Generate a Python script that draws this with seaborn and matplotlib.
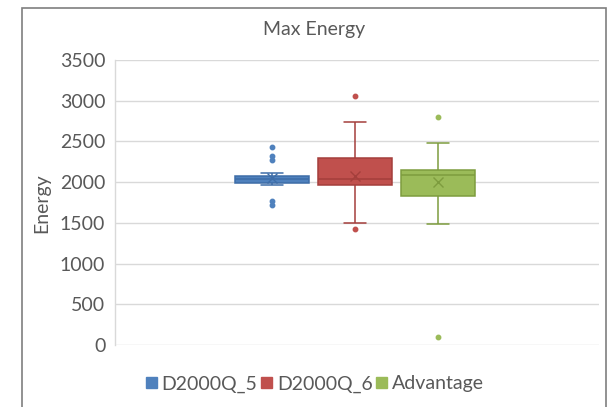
import numpy as np
import pandas as pd
import seaborn as sns
import matplotlib.pyplot as plt
from matplotlib.patches import Patch, Rectangle

# ---- data ----
series = ["D2000Q_5", "D2000Q_6", "Advantage"]
d2000q_5 = [1719, 1768, 1968, 1970, 1988, 1990, 1992, 1995, 2035,
            2036, 2037, 2038, 2073, 2115, 2277, 2326, 2436]
d2000q_6 = [1422, 1504, 1510, 1960, 1965, 1990, 2042, 2050, 2100,
            2294, 2300, 2734, 3056]
advantage = [101, 1491, 1800, 1825, 1829, 2000, 2060, 2078, 2082,
             2110, 2130, 2140, 2143, 2450, 2470, 2482, 2803]
title = "Max Energy"
ylabel = "Energy"
yticks = [0, 500, 1000, 1500, 2000, 2500, 3000, 3500]

fills = ["#4F81BD", "#C0504D", "#9BBB59"]
edges = ["#3E6DA8", "#A43F3C", "#7D9C3E"]
text_color = "#595959"

sns.set_theme(style="white")
plt.rcParams['font.family'] = ['Lato', 'DejaVu Sans']

df = pd.DataFrame({
    "group": ["all"] * (len(d2000q_5) + len(d2000q_6) + len(advantage)),
    "Series": [series[0]] * len(d2000q_5) + [series[1]] * len(d2000q_6) + [series[2]] * len(advantage),
    "Energy": d2000q_5 + d2000q_6 + advantage,
})

W, H = 609, 407
fig = plt.figure(figsize=(W / 100, H / 100), dpi=100)
ax = fig.add_axes([115 / W, 1 - 345 / H, 484 / W, 285 / H])

sns.boxplot(data=df, x="group", y="Energy", hue="Series", hue_order=series,
            palette=fills, width=0.8, gap=0.1, showmeans=True, ax=ax,
            legend=False, linewidth=1.1,
            flierprops=dict(marker="o", markersize=3.2),
            meanprops=dict(marker="x", markersize=7, markeredgewidth=1.0))

for cont, fc, ec in zip(ax.containers, fills, edges):
    for b in list(cont.boxes):
        b.set_facecolor(fc)
        b.set_edgecolor(ec)
        b.set_alpha(1)
    for l in list(cont.whiskers) + list(cont.caps) + list(cont.medians):
        l.set_color(ec)
        l.set_linewidth(1.1)
    for l in list(cont.caps):
        xd = np.asarray(l.get_xdata(), dtype=float)
        c = xd.mean()
        l.set_xdata([c - 0.036, c + 0.036])
    for l in list(cont.fliers):
        l.set_markerfacecolor(fc)
        l.set_markeredgecolor(fc)
    for l in list(cont.means):
        l.set_markeredgecolor(ec)
        l.set_markerfacecolor(ec)

ax.set_ylim(0, 3500)
ax.set_xlim(-0.772, 0.785)
ax.set_yticks(yticks)
ax.set_yticklabels([str(v) for v in yticks])
ax.set_xticks([])
ax.set_xlabel("")
ax.set_ylabel("")
ax.yaxis.grid(True, color="#D9D9D9", linewidth=1.0)
ax.set_axisbelow(True)
ax.tick_params(axis="y", length=0, pad=7, labelsize=14, labelcolor=text_color)
for s in ["top", "right", "bottom"]:
    ax.spines[s].set_visible(False)
ax.spines["left"].set_color("#D9D9D9")
ax.spines["left"].set_linewidth(1.0)

fig.text(314 / W, 1 - 30 / H, title, ha="center", va="center",
         fontsize=14, color=text_color)
fig.text(42 / W, 1 - 203 / H, ylabel, ha="center", va="center",
         rotation=90, fontsize=14, color=text_color)

handles = [Patch(facecolor=f, edgecolor=f) for f in fills]
fig.legend(handles, series, loc="center", bbox_to_anchor=(315 / W, 1 - 384 / H),
           ncol=3, frameon=False, handlelength=0.55, handleheight=0.55,
           handletextpad=0.25, columnspacing=0.2, fontsize=14,
           labelcolor=text_color)

fig.patches.append(Rectangle((22 / W, -0.1), (606 - 22) / W, (1 - 8 / H) + 0.1,
                             transform=fig.transFigure, fill=False,
                             edgecolor="#7F7F7F", linewidth=1.2))

fig.savefig("out.png", dpi=100)
